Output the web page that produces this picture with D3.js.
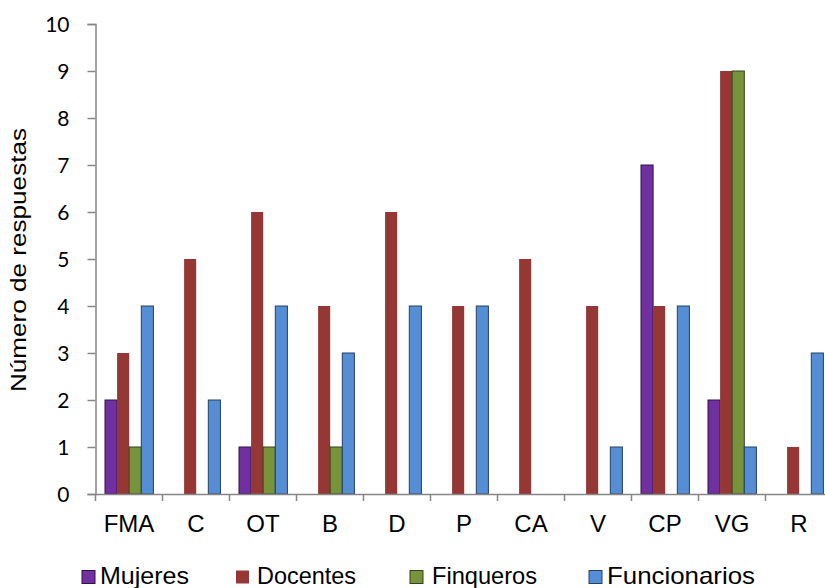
<!DOCTYPE html>
<html>
<head>
<meta charset="utf-8">
<script src="https://cdn.jsdelivr.net/npm/d3@7"></script>
<style>
html,body{margin:0;padding:0;background:#fff;}
svg{display:block;}
</style>
</head>
<body>
<svg id="chart" width="825" height="588"></svg>
<script>
const categories = ["FMA","C","OT","B","D","P","CA","V","CP","VG","R"];
const seriesNames = ["Mujeres","Docentes","Finqueros","Funcionarios"];
const mujeres      = [2,0,1,0,0,0,0,0,7,2,0];
const docentes     = [3,5,6,4,6,4,5,4,4,9,1];
const finqueros    = [1,0,1,1,0,0,0,0,0,9,0];
const funcionarios = [4,2,4,3,4,4,0,1,4,1,3];
const yTicks = [0,1,2,3,4,5,6,7,8,9,10];
const yTitle = "Número de respuestas";

const seriesValues = [mujeres, docentes, finqueros, funcionarios];
const fills   = ["#7030A0","#953735","#77933C","#558ED5"];
const strokes = ["#2e1245","none","#34421a","#24405f"];

const svg = d3.select("#chart");
const left = 95.5, bandW = 67;
const x = d3.scaleBand().domain(categories).range([left, left + bandW*categories.length]).padding(0);
const xs = d3.scaleBand().domain(seriesNames).range([9.5, 57.9]).padding(0);
const y = d3.scaleLinear().domain([0,10]).range([494, 24]);
const axisColor = "#868686";

// bars
seriesNames.forEach((s, si) => {
  const data = categories.map((c, i) => ({c, v: seriesValues[si][i]})).filter(d => d.v > 0);
  svg.append("g").selectAll("rect").data(data).join("rect")
    .attr("x", d => x(d.c) + xs(s))
    .attr("y", d => y(d.v))
    .attr("width", xs.bandwidth())
    .attr("height", d => y(0) - y(d.v))
    .attr("fill", fills[si])
    .attr("stroke", strokes[si])
    .attr("stroke-width", strokes[si] === "none" ? 0 : 1);
});

// y axis
const yAxis = d3.axisLeft(y).tickValues(yTicks).tickSize(8).tickPadding(18).tickFormat(d3.format("d"));
const gy = svg.append("g").attr("transform", `translate(${left},0)`).call(yAxis);
gy.select(".domain").attr("stroke", axisColor).attr("stroke-width", 1.5);
gy.selectAll(".tick line").attr("stroke", axisColor).attr("stroke-width", 1.5);
gy.selectAll(".tick text").attr("font-family", "Lato, 'Open Sans', sans-serif").attr("font-size", 21).attr("fill", "#000").attr("dy", "0.36em");

// x axis
const xAxis = d3.axisBottom(x).tickSize(0).tickPadding(22);
const gx = svg.append("g").attr("transform", `translate(0,${y(0)})`).call(xAxis);
gx.select(".domain").attr("stroke", axisColor).attr("stroke-width", 1.5);
gx.selectAll(".tick text").attr("font-family", "'Liberation Sans', Arial, sans-serif").attr("font-size", 24).attr("fill", "#000").attr("dy", "0.71em").attr("y", 21);
// boundary ticks
const bounds = categories.map(c => x(c)).concat([x(categories[categories.length-1]) + x.bandwidth()]);
gx.append("g").selectAll("line").data(bounds).join("line")
  .attr("x1", d => d).attr("x2", d => d).attr("y1", 0).attr("y2", 7)
  .attr("stroke", axisColor).attr("stroke-width", 1.5);

// y title
svg.append("text")
  .attr("transform", "translate(26,260) rotate(-90)")
  .attr("text-anchor", "middle")
  .attr("font-family", "'Liberation Sans', Arial, sans-serif")
  .attr("font-size", 22)
  .attr("textLength", 264)
  .attr("lengthAdjust", "spacingAndGlyphs")
  .text(yTitle);

// legend
const legendSq = [82, 236, 410, 589];
const legendTx = [100, 257, 432, 607];
const legendLen = [89, 99, 105, 148];
const lg = svg.append("g");
seriesNames.forEach((s, i) => {
  lg.append("rect").attr("x", legendSq[i]).attr("y", 570.5).attr("width", 13).attr("height", 13)
    .attr("fill", fills[i]).attr("stroke", i === 1 ? "none" : strokes[i]).attr("stroke-width", 1);
  lg.append("text").attr("x", legendTx[i]).attr("y", 584)
    .attr("font-family", "'Liberation Sans', Arial, sans-serif").attr("font-size", 24)
    .attr("textLength", legendLen[i]).attr("lengthAdjust", "spacingAndGlyphs")
    .text(s);
});
</script>
</body>
</html>
